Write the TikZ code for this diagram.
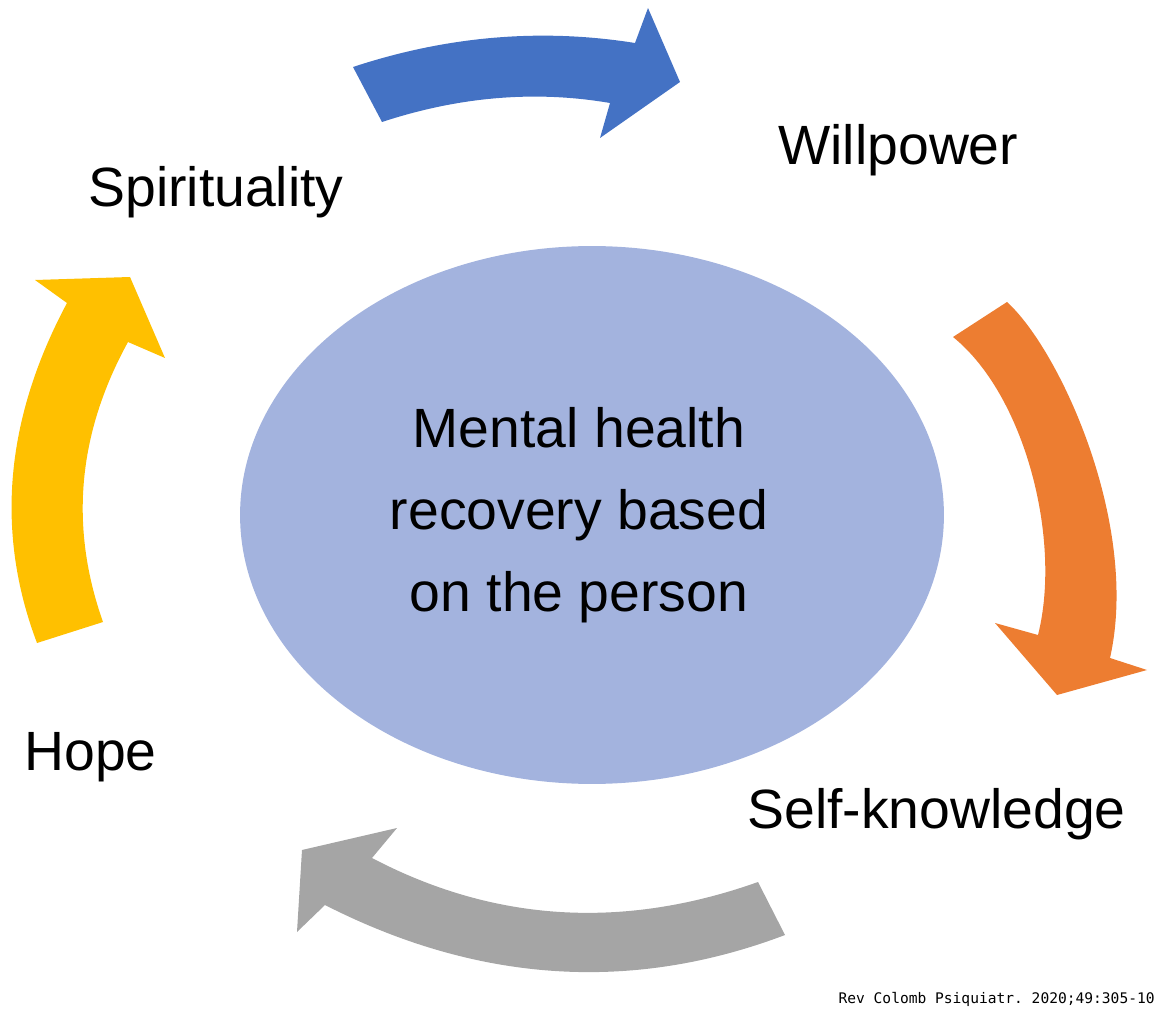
\documentclass[tikz,border=0pt]{standalone}
\usepackage{fontspec}
\setmainfont{Liberation Sans}
\setmonofont{DejaVu Sans Mono}
\definecolor{hubfill}{RGB}{163,179,222}
\definecolor{arrowA}{RGB}{68,114,196}
\definecolor{arrowB}{RGB}{237,125,49}
\definecolor{arrowC}{RGB}{165,165,165}
\definecolor{arrowD}{RGB}{255,192,0}
\usetikzlibrary{shapes.geometric}
\tikzset{
  hub/.style={ellipse, fill=hubfill, inner sep=0pt,
              minimum width=14.08cm, minimum height=10.76cm},
  bigtext/.style={font=\fontsize{31.5}{46.5}\selectfont, inner sep=0pt},
  caption/.style={bigtext, anchor=base west},
  source/.style={font=\ttfamily\fontsize{8.3}{10}\selectfont, inner sep=0pt, anchor=base east},
}

\begin{document}
\begin{tikzpicture}[x=0.02cm, y=-0.02cm]
        \useasboundingbox (0,0) rectangle (1167,1020);

        \node[hub] (hub) at (592,515) {};
        \node[bigtext, align=center] (hubtext) at (579,515) {Mental health\\recovery based\\on the person};

        \node[caption] (spirit) at (88,207)  {Spirituality};
        \node[caption] (will)   at (778,165) {Willpower};
        \node[caption] (self)   at (747,828) {Self-knowledge};
        \node[caption] (hope)   at (24,770)  {Hope};

        % block arrows round the hub
        \fill[arrowA] (382,122) -- (353,67) .. controls (447,36) and (541,28) .. (635,43)
          -- (648,8) -- (680,82) -- (600,138) -- (610,103)
          .. controls (534,90) and (458,97) .. (382,122) -- cycle;
        \fill[arrowB] (953,337) -- (1007,302) .. controls (1060,350) and (1140,525) .. (1110,658)
          -- (1147,670) -- (1057,695) -- (995,623) -- (1038,635)
          .. controls (1062,540) and (1025,395) .. (953,337) -- cycle;
        \fill[arrowC] (785,935) -- (758,882) .. controls (623,930) and (494,922) .. (372,858)
          -- (397,828) -- (302,850) -- (297,932) -- (325,905)
          .. controls (478,983) and (632,993) .. (785,935) -- cycle;
        \fill[arrowD] (37,643) -- (103,622) .. controls (69,526) and (78,433) .. (128,342)
          -- (165,358) -- (130,277) -- (35,280) -- (67,303)
          .. controls (5,419) and (-5,532) .. (37,643) -- cycle;

        \node[source] (ref) at (1155,1003) {Rev Colomb Psiquiatr. 2020;49:305-10};
      \end{tikzpicture}
\end{document}
